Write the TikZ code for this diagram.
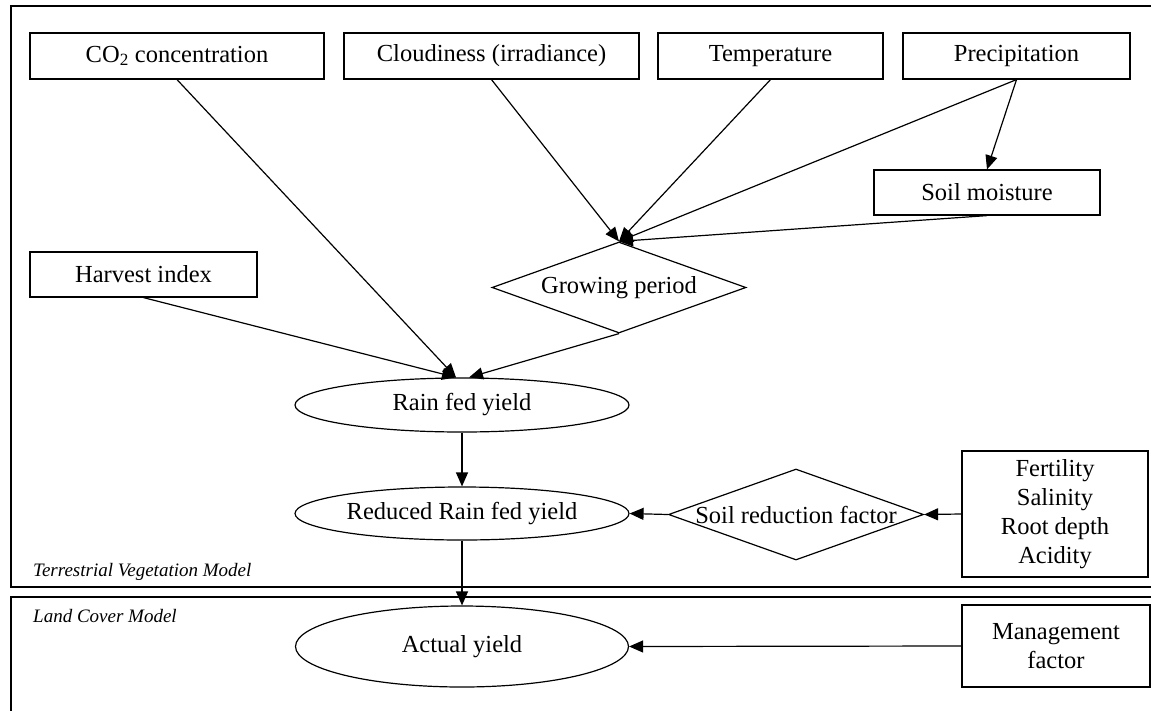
\documentclass[tikz,border=0pt]{standalone}
\usepackage{fontspec}
\setmainfont{Liberation Serif}
\usetikzlibrary{shapes.geometric,arrows.meta,calc}
\begin{document}
\begin{tikzpicture}[x=1pt,y=-1pt,
  every node/.style={font=\fontsize{24.5}{29}\selectfont},
  box/.style={draw, line width=1.2pt, rectangle, inner sep=0pt, minimum height=46pt},
  ell/.style={draw, line width=1.2pt, ellipse, inner sep=0pt},
  dia/.style={draw, line width=1.2pt, diamond, inner sep=0pt},
  lbl/.style={inner sep=0pt},
  frame/.style={draw, line width=1.1pt},
  arr/.style={line width=1.2pt, -{Triangle[length=14pt,width=12pt]}},
  model/.style={font=\fontsize{19}{23}\selectfont\itshape, anchor=west, inner sep=0pt}
]
\useasboundingbox (0,0) rectangle (1151,710);
\clip (0,0) rectangle (1151,710);
\fill[white] (0,0) rectangle (1151,710);
\draw[frame] (11,6) rectangle (1170,587);
\draw[frame] (11,597) rectangle (1170,730);

\node[box, minimum width=294pt] (co2) at (177,56) {CO\textsubscript{2} concentration};
\node[box, minimum width=295pt] (cloud) at (491.5,56) {Cloudiness (irradiance)};
\node[box, minimum width=225pt] (temp) at (770.5,56) {Temperature};
\node[box, minimum width=227pt] (prec) at (1016.5,56) {Precipitation};
\node[box, minimum width=226pt, minimum height=45pt] (soil) at (987,192.5) {Soil moisture};
\node[box, minimum width=227pt, minimum height=45pt] (harv) at (143.5,274.5) {Harvest index};
\node[dia, minimum width=254pt, minimum height=91pt] (grow) at (619,287.5) {};
\node[lbl] (growt) at (grow.center) {Growing period};
\node[ell, minimum width=334pt, minimum height=54pt] (rain) at (462,405) {Rain fed yield};
\node[ell, minimum width=334pt, minimum height=53pt] (red) at (462,513.5) {Reduced Rain fed yield};
\node[ell, minimum width=333pt, minimum height=81pt] (act) at (462,646.5) {Actual yield};
\node[dia, minimum width=255pt, minimum height=91pt] (srf) at (796,514.5) {};
\node[lbl] (srft) at (srf.center) {Soil reduction factor};
\node[box, minimum width=186pt, minimum height=126pt, align=center] (fert) at (1055,514) {Fertility\\Salinity\\Root depth\\Acidity};
\node[box, minimum width=188pt, minimum height=82pt, align=center] (mgmt) at (1056,646) {Management\\factor};
\node[model] (tvm) at (33,572) {Terrestrial Vegetation Model};
\node[model] (lcm) at (33,616) {Land Cover Model};

\coordinate (rl) at ($(rain.north)+(-6,0)$);
\coordinate (rr) at ($(rain.north)+(7,0)$);
\draw[arr] (co2.south) -- (rl);
\draw[arr] (harv.south) -- (rl);
\draw[arr] (grow.south) -- (rr);
\draw[arr] (cloud.south) -- (grow.north);
\draw[arr] (temp.south) -- (grow.north);
\draw[arr] (prec.south) -- (grow.north);
\draw[arr] (soil.south) -- (grow.north);
\draw[arr] (prec.south) -- (soil.north);
\draw[arr] (rain.south) -- (red.north);
\draw[arr] (red.south) -- (act.north);
\draw[arr] (srf.west) -- (red.east);
\draw[arr] (fert.west) -- (srf.east);
\draw[arr] (mgmt.west) -- (act.east);
\end{tikzpicture}
\end{document}
